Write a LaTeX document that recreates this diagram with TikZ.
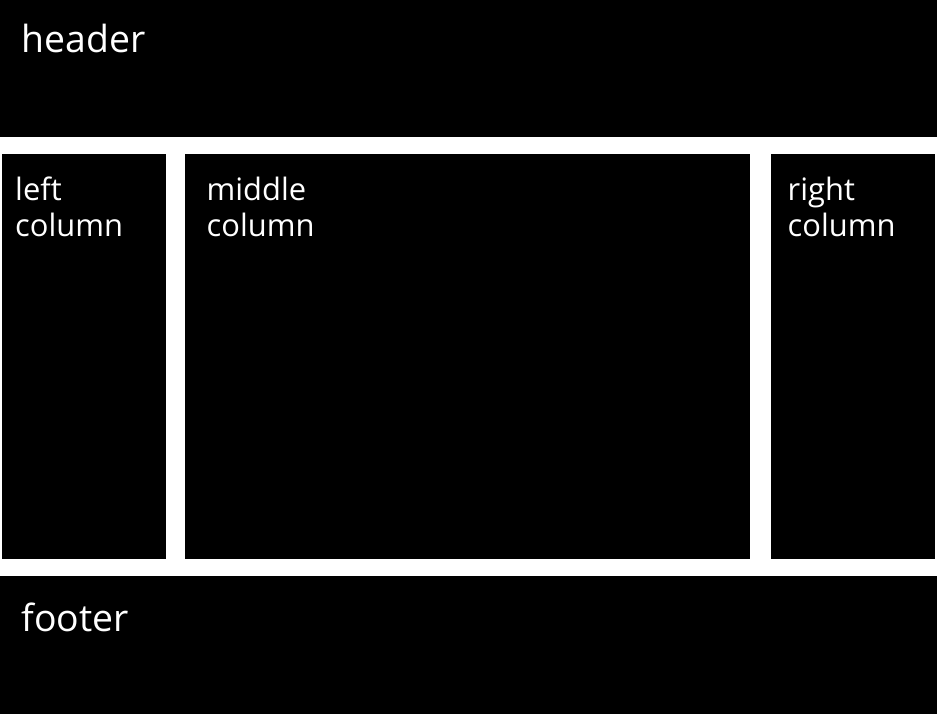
\documentclass[tikz,border=0pt]{standalone}
\usepackage{fontspec}
\setmainfont{Open Sans}
\usepackage{tikz}

\tikzset{
    block/.style={fill=black},
    bigtext/.style={text=white, anchor=base west, inner sep=0pt, font=\fontsize{37.5}{44}\selectfont},
    coltext/.style={text=white, anchor=base west, inner sep=0pt, align=left, font=\fontsize{31}{36}\selectfont}
}

\begin{document}
\begin{tikzpicture}[x=1bp, y=-1bp]
            \useasboundingbox[fill=white] (0, 0) rectangle (937, 714);

            \fill[block] (0, 0) rectangle (937, 137.5); % header
            \fill[block] (2, 154) rectangle (166, 559); % left
            \fill[block] (184.5, 154) rectangle (749.5, 559); % middle
            \fill[block] (771, 154) rectangle (935, 559); % right
            \fill[block] (0, 576) rectangle (937, 714); % footer

            \node[bigtext] (header) at (21.5, 52.5) {header};
            \node[coltext] (leftcol) at (15, 236.5) {left\\column};
            \node[coltext] (midcol) at (206.5, 236.5) {middle\\column};
            \node[coltext] (rightcol) at (787.5, 236.5) {right\\column};
            \node[bigtext] (footer) at (21.5, 631.7) {footer};
        \end{tikzpicture}
\end{document}
